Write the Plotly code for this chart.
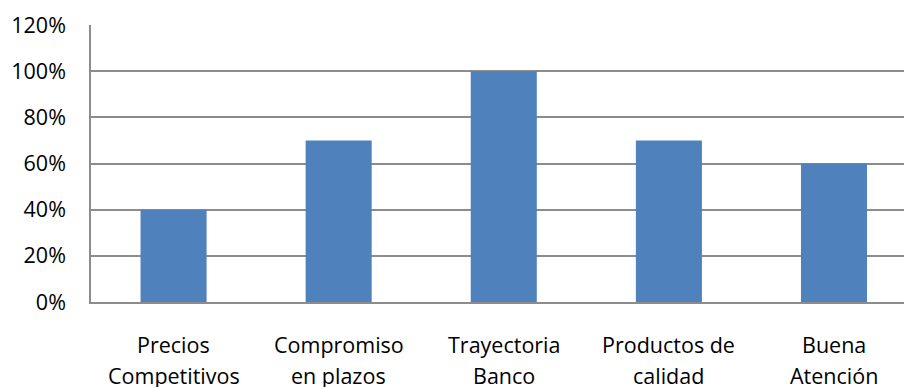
import plotly.graph_objects as go

categories = ["Precios Competitivos", "Compromiso en plazos", "Trayectoria Banco",
              "Productos de calidad", "Buena Atención"]
label_line1 = ["Precios", "Compromiso", "Trayectoria", "Productos de", "Buena"]
label_line2 = ["Competitivos", "en plazos", "Banco", "calidad", "Atención"]
values = [0.40, 0.70, 1.00, 0.70, 0.60]
y_ticks = [0, 0.2, 0.4, 0.6, 0.8, 1.0, 1.2]
y_tick_text = ["0%", "20%", "40%", "60%", "80%", "100%", "120%"]

FONT = "'Open Sans', Lato, sans-serif"
GRID = "#8c8c8c"
SIZE = 21.5

fig = go.Figure(go.Bar(
    x=list(range(len(categories))),
    y=values,
    width=0.4,
    marker=dict(color="#4F81BD", line=dict(width=0)),
    hovertext=categories,
))

annotations = []
for i, (a, b) in enumerate(zip(label_line1, label_line2)):
    annotations.append(dict(x=i, y=0, xref="x", yref="paper", text=a, showarrow=False,
                            yanchor="middle", yshift=-42,
                            font=dict(family=FONT, size=SIZE, color="#000000")))
    annotations.append(dict(x=i, y=0, xref="x", yref="paper", text=b, showarrow=False,
                            yanchor="middle", yshift=-73,
                            font=dict(family=FONT, size=SIZE, color="#000000")))

fig.update_layout(
    width=904, height=387,
    margin=dict(l=91, r=0, t=25, b=85),
    paper_bgcolor="white", plot_bgcolor="white",
    showlegend=False,
    annotations=annotations,
    xaxis=dict(range=[-0.5, 4.424], showticklabels=False, ticks="",
               showgrid=False, zeroline=False, showline=True,
               linecolor=GRID, linewidth=1.5),
    yaxis=dict(range=[0, 1.2], tickvals=y_ticks, ticktext=y_tick_text,
               showgrid=True, gridcolor=GRID, gridwidth=1.5,
               zeroline=False, showline=True, linecolor=GRID, linewidth=1.5,
               ticks="", ticklabelstandoff=19,
               tickfont=dict(family=FONT, size=SIZE, color="#000000")),
)

fig.write_html("out.html")
